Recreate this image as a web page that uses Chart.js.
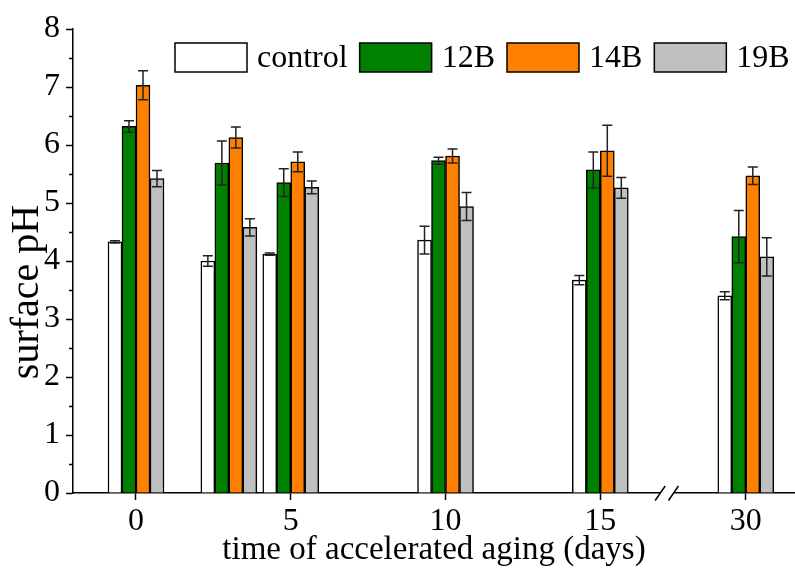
<!DOCTYPE html>
<html>
<head>
<meta charset="utf-8">
<script src="https://cdn.jsdelivr.net/npm/chart.js@4.4.1/dist/chart.umd.min.js"></script>
<style>
  html, body { margin: 0; padding: 0; background: #fff; }
  #wrap { width: 795px; height: 570px; }
</style>
</head>
<body>
<div id="wrap"><canvas id="c" width="795" height="570"></canvas></div>
<script>
// Sampling times (days of accelerated aging)
const days = [0, 3, 5, 10, 15, 30];
const seriesNames = ['control', '12B', '14B', '19B'];

// Surface pH (mean) and standard deviation per sample
const controlPH  = [4.33, 4.00, 4.12, 4.36, 3.67, 3.40];
const controlErr = [0.02, 0.09, 0.02, 0.24, 0.08, 0.07];
const b12PH      = [6.32, 5.69, 5.35, 5.73, 5.57, 4.42];
const b12Err     = [0.10, 0.38, 0.24, 0.06, 0.31, 0.45];
const b14PH      = [7.03, 6.13, 5.71, 5.81, 5.90, 5.47];
const b14Err     = [0.25, 0.18, 0.17, 0.12, 0.44, 0.15];
const b19PH      = [5.42, 4.58, 5.27, 4.94, 5.26, 4.07];
const b19Err     = [0.14, 0.15, 0.11, 0.24, 0.18, 0.33];

const seriesColors = ['#ffffff', '#008000', '#ff8000', '#c0c0c0'];

// Axis ticks and titles
const xTickDays = [0, 5, 10, 15, 30];
const yTickValues = [0, 1, 2, 3, 4, 5, 6, 7, 8];
const xTitle = 'time of accelerated aging (days)';
const yTitle = 'surface pH';

// Broken x axis: days after 15 are pulled left by breakGap
const breakStart = 15;
const breakGap = 10.3;
const breakMark = 17.16;
const axisPos = d => (d > breakStart ? d - breakGap : d);

const FONT = "'Liberation Serif', 'Times New Roman', Times, serif";
Chart.defaults.font.family = FONT;
Chart.defaults.color = '#000';

const values = [controlPH, b12PH, b14PH, b19PH];
const errors = [controlErr, b12Err, b14Err, b19Err];

const datasets = seriesNames.map((name, k) => ({
  label: name,
  data: days.map((d, i) => ({ x: axisPos(d), y: values[k][i] })),
  errors: errors[k],
  backgroundColor: seriesColors[k],
  borderColor: '#000',
  borderWidth: 1.5,
  barThickness: 14
}));

const errorBarPlugin = {
  id: 'errorBars',
  afterDatasetsDraw(chart) {
    const ctx = chart.ctx, ys = chart.scales.y;
    ctx.save();
    ctx.strokeStyle = '#222';
    ctx.lineWidth = 1.5;
    chart.data.datasets.forEach((ds, di) => {
      const meta = chart.getDatasetMeta(di);
      meta.data.forEach((bar, i) => {
        const v = ds.data[i].y, e = ds.errors[i];
        const yt = ys.getPixelForValue(v + e), yb = ys.getPixelForValue(v - e);
        const x = bar.x, cap = 5;
        ctx.beginPath();
        ctx.moveTo(x, yt); ctx.lineTo(x, yb);
        ctx.moveTo(x - cap, yt); ctx.lineTo(x + cap, yt);
        ctx.moveTo(x - cap, yb); ctx.lineTo(x + cap, yb);
        ctx.stroke();
      });
    });
    ctx.restore();
  }
};

const axisExtrasPlugin = {
  id: 'axisExtras',
  afterDraw(chart) {
    const ctx = chart.ctx, area = chart.chartArea;
    const xs = chart.scales.x, ys = chart.scales.y;
    ctx.save();
    ctx.strokeStyle = '#000';
    ctx.lineWidth = 1.5;
    // minor y ticks
    for (let v = 0.5; v < 8; v += 1) {
      const py = Math.round(ys.getPixelForValue(v)) + 0.5;
      ctx.beginPath();
      ctx.moveTo(area.left - 4, py);
      ctx.lineTo(area.left, py);
      ctx.stroke();
    }
    // axis break
    const bx = xs.getPixelForValue(breakMark), by = area.bottom;
    ctx.fillStyle = '#fff';
    ctx.fillRect(bx - 7, by - 2, 13, 4);
    ctx.beginPath();
    ctx.moveTo(bx - 12, by + 7.5); ctx.lineTo(bx - 2, by - 7);
    ctx.moveTo(bx + 1.3, by + 7.5); ctx.lineTo(bx + 11.3, by - 7);
    ctx.stroke();

    // y axis title
    ctx.save();
    ctx.fillStyle = '#000';
    ctx.font = '40px ' + FONT;
    ctx.textAlign = 'center';
    ctx.textBaseline = 'alphabetic';
    ctx.translate(38, 292);
    ctx.rotate(-Math.PI / 2);
    ctx.fillText(yTitle, 0, 0);
    ctx.restore();

    // legend
    ctx.font = '32px ' + FONT;
    ctx.textBaseline = 'middle';
    ctx.textAlign = 'left';
    let lx = 175;
    const top = 43, bw = 72, bh = 29;
    chart.data.datasets.forEach(ds => {
      ctx.fillStyle = ds.backgroundColor;
      ctx.fillRect(lx, top, bw, bh);
      ctx.lineWidth = 1.5;
      ctx.strokeStyle = '#000';
      ctx.strokeRect(lx, top, bw, bh);
      lx += bw + 10;
      ctx.fillStyle = '#000';
      ctx.fillText(ds.label, lx, top + bh / 2 + 1);
      lx += ctx.measureText(ds.label).width + 12;
    });
    ctx.restore();
  }
};

new Chart(document.getElementById('c'), {
  type: 'bar',
  data: { datasets },
  options: {
    responsive: false,
    animation: false,
    devicePixelRatio: 1,
    layout: { padding: { top: 29, right: 0, left: 0, bottom: 0 } },
    plugins: {
      legend: { display: false },
      tooltip: { enabled: false }
    },
    scales: {
      x: {
        type: 'linear',
        offset: false,
        min: -2.035,
        max: 21.29,
        afterFit: s => { s.height = 77; },
        afterBuildTicks: s => { s.ticks = xTickDays.map(d => ({ value: axisPos(d) })); },
        ticks: {
          autoSkip: false,
          maxRotation: 0,
          padding: 2,
          font: { size: 32 },
          callback: (v, i) => String(xTickDays[i])
        },
        grid: {
          offset: false,
          drawOnChartArea: false,
          drawTicks: true,
          tickLength: 7,
          tickWidth: 1.5,
          tickColor: '#000'
        },
        border: { display: true, color: '#000', width: 1.5 },
        title: {
          display: true,
          text: xTitle,
          font: { size: 33 },
          padding: { top: 0, bottom: 0 }
        }
      },
      y: {
        min: 0,
        max: 8,
        afterFit: s => { s.width = 73; },
        afterBuildTicks: s => { s.ticks = yTickValues.map(v => ({ value: v })); },
        ticks: {
          padding: 6,
          font: { size: 32 },
          callback: v => String(v)
        },
        grid: {
          drawOnChartArea: false,
          drawTicks: true,
          tickLength: 7,
          tickWidth: 1.5,
          tickColor: '#000'
        },
        border: { display: true, color: '#000', width: 1.5 },
        title: { display: false }
      }
    }
  },
  plugins: [errorBarPlugin, axisExtrasPlugin]
});
</script>
</body>
</html>
